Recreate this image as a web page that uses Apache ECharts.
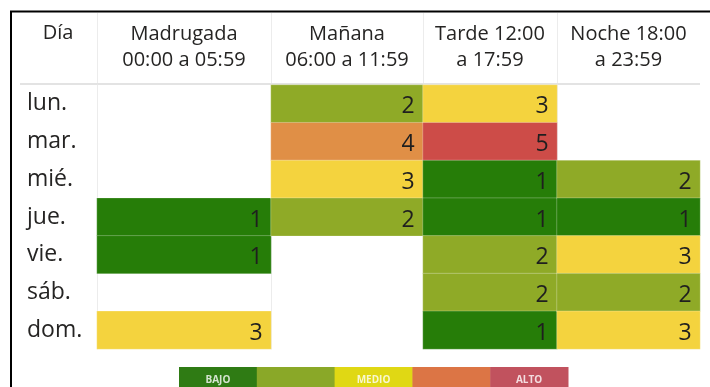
<!DOCTYPE html>
<html>
<head>
<meta charset="utf-8">
<script src="https://cdn.jsdelivr.net/npm/echarts@6/dist/echarts.min.js"></script>
<style>
  html, body { margin: 0; padding: 0; background: #fff; }
  #chart { width: 710px; height: 387px; }
</style>
</head>
<body>
<div id="chart"></div>
<script>
// Rows (days) and column headers (time bands)
const days = ['lun.', 'mar.', 'mié.', 'jue.', 'vie.', 'sáb.', 'dom.'];
const bands = ['Madrugada\n00:00 a 05:59', 'Mañana\n06:00 a 11:59', 'Tarde 12:00\na 17:59', 'Noche 18:00\na 23:59'];

// Count per day for each band (null = no records)
const madrugada = [null, null, null, 1, 1, null, 3];
const manana    = [2, 4, 3, 2, null, null, null];
const tarde     = [3, 5, 1, 1, 2, 2, 1];
const noche     = [null, null, 2, 1, 3, 2, 3];

// Level scale: 1 (bajo) … 5 (alto)
const levelColors = ['#267d08', '#8faa27', '#f4d33e', '#e08f46', '#cd4c48'];
const legendColors = ['#2f7b14', '#8aa828', '#e0d814', '#dc7545', '#c1525e'];
const legendTexts = ['BAJO', '', 'MEDIO', '', 'ALTO'];

const columns = [madrugada, manana, tarde, noche];

// Layout of the table
const tableTop = 85, tableBottom = 38;
const colLeft  = [97, 271, 423, 557];
const colWidth = [174, 152, 134, 143];
const textColor = '#252423';
const font = '"Open Sans", "Noto Sans", sans-serif';

const grids = [], xAxes = [], yAxes = [], series = [];
columns.forEach((vals, c) => {
  grids.push({ left: colLeft[c], width: colWidth[c], top: tableTop, bottom: tableBottom });
  xAxes.push({
    type: 'category', gridIndex: c, position: 'top', data: [bands[c]],
    axisLine: { show: false }, axisTick: { show: false },
    axisLabel: { fontFamily: font, fontSize: 20, lineHeight: 26, color: textColor, margin: 12, interval: 0 }
  });
  yAxes.push({
    type: 'category', gridIndex: c, data: days, inverse: true,
    axisLine: { show: true, lineStyle: { color: '#ececec', width: 1 } },
    axisTick: { show: false },
    axisLabel: c === 0
      ? { fontFamily: font, fontSize: 23, color: textColor, align: 'left', margin: 70 }
      : { show: false }
  });
  const data = [];
  vals.forEach((v, r) => { if (v != null) data.push([0, r, v]); });
  series.push({
    type: 'heatmap', xAxisIndex: c, yAxisIndex: c, data: data,
    itemStyle: { borderColor: 'rgba(255,255,255,0.25)', borderWidth: 1 },
    label: {
      show: true, position: 'insideRight', distance: 9,
      fontFamily: font, fontSize: 23, color: '#1f1f1f', offset: [0, 3]
    },
    emphasis: { disabled: true }
  });
});

const pieces = levelColors.map((col, i) => ({ value: i + 1, color: col }));

// Legend bar under the table
const legendLeft = 179, legendSeg = 77.8, legendTop = 367;
const legendGraphics = legendColors.map((col, i) => ({
  type: 'rect',
  shape: { x: legendLeft + i * legendSeg, y: legendTop, width: legendSeg + 0.5, height: 24 },
  style: { fill: col }
}));
legendTexts.forEach((t, i) => {
  if (!t) return;
  legendGraphics.push({
    type: 'text',
    x: legendLeft + (i + 0.5) * legendSeg, y: 380,
    style: { text: t, fill: 'rgba(255,255,255,0.8)', font: 'bold 10px ' + font, align: 'center', verticalAlign: 'middle' }
  });
});

// Header separators and frame
const headerLines = colLeft.map(x => ({
  type: 'line', shape: { x1: x + 0.5, y1: 13, x2: x + 0.5, y2: tableTop }, style: { stroke: '#ececec', lineWidth: 1 }
}));

const chart = echarts.init(document.getElementById('chart'), null, { renderer: 'canvas' });
chart.setOption({
  animation: false,
  backgroundColor: '#fff',
  grid: grids,
  xAxis: xAxes,
  yAxis: yAxes,
  visualMap: { type: 'piecewise', show: false, pieces: pieces, seriesIndex: [0, 1, 2, 3] },
  series: series,
  graphic: [
    ...headerLines,
    { type: 'line', shape: { x1: 20, y1: 84, x2: 700, y2: 84 }, style: { stroke: '#e3e3e3', lineWidth: 2 } },
    { type: 'text', x: 58, y: 33, style: { text: 'Día', font: '20px ' + font, fill: textColor, align: 'center', verticalAlign: 'middle' } },
    { type: 'polyline', shape: { points: [[11, 387], [11, 11.5], [710, 11.5]] }, style: { stroke: '#000', lineWidth: 2, fill: null } },
    ...legendGraphics
  ]
});
</script>
</body>
</html>
